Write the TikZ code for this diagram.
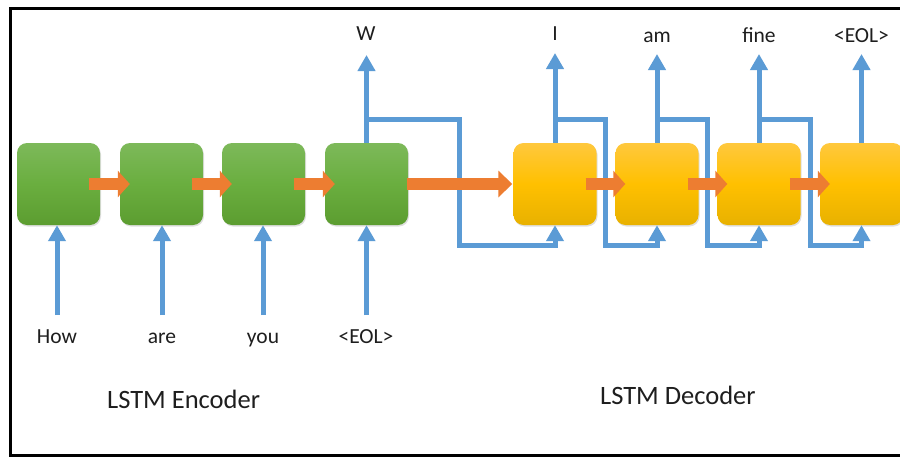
\documentclass[tikz,border=0pt]{standalone}
\usepackage{fontspec}
\setmainfont{Carlito}
\usetikzlibrary{arrows.meta,shadows}
\definecolor{blueline}{HTML}{5B9BD5}
\definecolor{orangearr}{HTML}{ED7D31}
\definecolor{greentop}{HTML}{7DB95A}
\definecolor{greenbot}{HTML}{5C9D30}
\definecolor{greenmid}{HTML}{6AAE3F}
\definecolor{yellowtop}{HTML}{FFC83D}
\definecolor{yellowmid}{HTML}{FFC000}
\definecolor{yellowbot}{HTML}{E8B100}
\definecolor{txt}{HTML}{1E1E1E}
\tikzset{
  lstmbox/.style={minimum width=83pt, minimum height=82pt, inner sep=0pt,
    rounded corners=10pt,
    drop shadow={shadow xshift=1pt, shadow yshift=-1.5pt, opacity=0.25}},
  encbox/.style={lstmbox, top color=greentop, bottom color=greenbot, middle color=greenmid},
  decbox/.style={lstmbox, top color=yellowtop, bottom color=yellowbot, middle color=yellowmid},
  bluearrow/.style={draw=blueline, line width=5pt,
    -{Triangle[length=16pt,width=17pt]}},
  feedarrow/.style={bluearrow, rounded corners=0pt},
  orarrow/.style={draw=orangearr, line width=12pt,
    -{Triangle[length=12pt,width=26pt]}},
  bigorarrow/.style={draw=orangearr, line width=12pt,
    -{Triangle[length=14pt,width=26pt]}},
  word/.style={font=\fontsize{21.5}{25}\selectfont, text=txt, anchor=base, inner sep=0pt},
  title/.style={font=\fontsize{26.5}{30}\selectfont, text=txt, anchor=base west, inner sep=0pt}
}
\begin{document}
\begin{tikzpicture}[x=1pt,y=-1pt]
\useasboundingbox (0,0) rectangle (900,458);
\clip (0,0) rectangle (900,458);
\fill[white] (0,0) rectangle (900,458);
% frame
\draw[black, line width=3pt] (950,8.5) -- (10.5,8.5) -- (10.5,455.5) -- (950,455.5);

% boxes
\node[encbox] (e1) at (58.5,184) {};
\node[encbox] (e2) at (161.5,184) {};
\node[encbox] (e3) at (263.5,184) {};
\node[encbox] (e4) at (366.5,184) {};
\node[decbox] (d1) at (555,184) {};
\node[decbox] (d2) at (657,184) {};
\node[decbox] (d3) at (759,184) {};
\node[decbox] (d4) at (861.5,184) {};

% input words
\node[word] (w1) at (57,343) {How};
\node[word] (w2) at (162,343) {are};
\node[word] (w3) at (263,343) {you};
\node[word] (w4) at (366,343) {<EOL>};
\coordinate (i1) at (57,315);
\coordinate (i2) at (162,315);
\coordinate (i3) at (263,315);
\coordinate (i4) at (366.5,315);
\draw[bluearrow] (i1) -- (e1.south -| i1);
\draw[bluearrow] (i2) -- (e2.south -| i2);
\draw[bluearrow] (i3) -- (e3.south -| i3);
\draw[bluearrow] (i4) -- (e4.south -| i4);

% output words
\node[word] (o4) at (366,40) {W};
\node[word] (p1) at (555,40) {I};
\node[word] (p2) at (657,42.5) {am};
\node[word] (p3) at (759,42) {fine};
\node[word] (p4) at (861.5,42.5) {<EOL>};
\coordinate (t4) at (366.5,55);
\coordinate (u1) at (555,53);
\coordinate (u2) at (657,54);
\coordinate (u3) at (759,54);
\coordinate (u4) at (861.5,54);
\draw[bluearrow] (e4.north) -- (t4);
\draw[bluearrow] (d1.north) -- (u1);
\draw[bluearrow] (d2.north) -- (u2);
\draw[bluearrow] (d3.north) -- (u3);
\draw[bluearrow] (d4.north) -- (u4);

% feedback connections
\draw[feedarrow] (e4.north) ++(0,-23) -| ++(93,125.5) -| (d1.south);
\draw[feedarrow] (d1.north) ++(0,-23) -| ++(50,125.5) -| (d2.south);
\draw[feedarrow] (d2.north) ++(0,-23) -| ++(50,125.5) -| (d3.south);
\draw[feedarrow] (d3.north) ++(0,-23) -| ++(51,125.5) -| (d4.south);

% hidden state arrows
\draw[orarrow] ([xshift=-11pt]e1.east) -- ([xshift=10pt]e2.west);
\draw[orarrow] ([xshift=-11pt]e2.east) -- ([xshift=10pt]e3.west);
\draw[orarrow] ([xshift=-11pt]e3.east) -- ([xshift=10pt]e4.west);
\draw[bigorarrow] ([xshift=-1pt]e4.east) -- ([xshift=-1pt]d1.west);
\draw[orarrow] ([xshift=-11pt]d1.east) -- ([xshift=10pt]d2.west);
\draw[orarrow] ([xshift=-11pt]d2.east) -- ([xshift=10pt]d3.west);
\draw[orarrow] ([xshift=-11pt]d3.east) -- ([xshift=10pt]d4.west);

% titles
\node[title] (enc) at (107,408) {LSTM Encoder};
\node[title] (dec) at (600,404) {LSTM Decoder};
\end{tikzpicture}
\end{document}
